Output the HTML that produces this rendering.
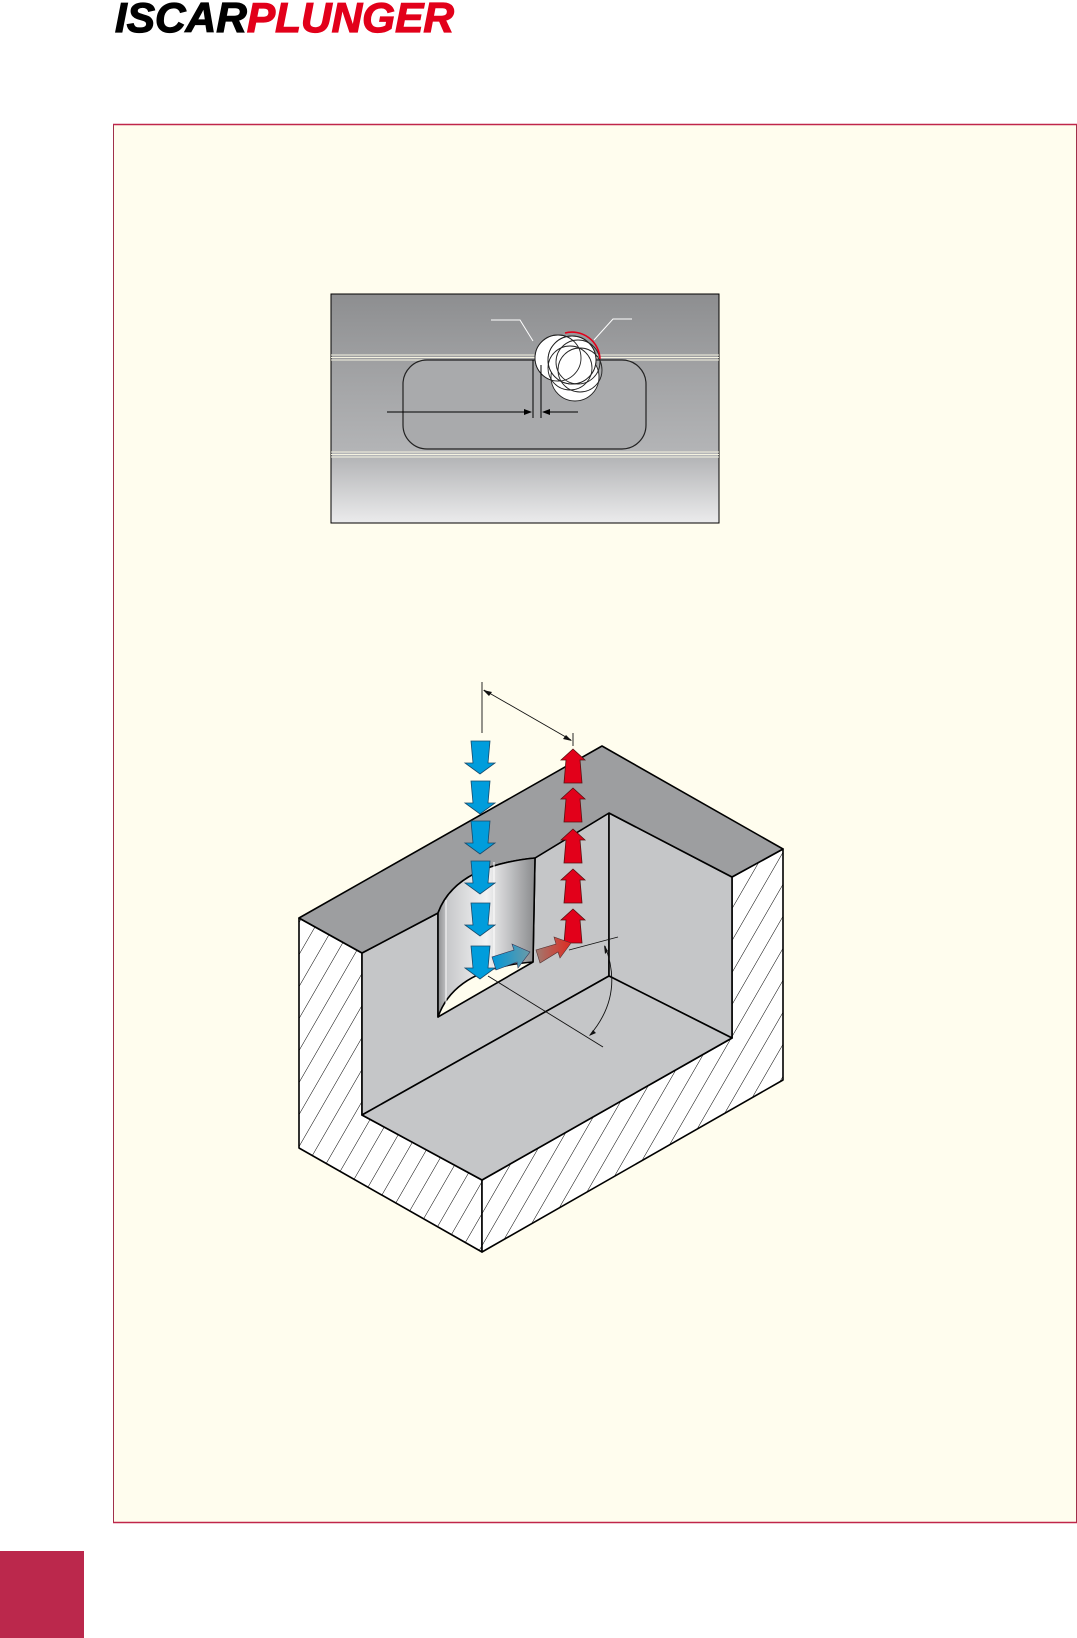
<!DOCTYPE html>
<html><head><meta charset="utf-8"><style>
html,body{margin:0;padding:0;background:#fff;}
svg{display:block;}
</style></head><body>
<svg width="1077" height="1638" viewBox="0 0 1077 1638" xmlns="http://www.w3.org/2000/svg">
<defs>
<linearGradient id="bg1" x1="0" y1="0" x2="0" y2="1">
<stop offset="0" stop-color="#8d8e90"/><stop offset="0.3" stop-color="#9fa0a2"/><stop offset="0.72" stop-color="#b5b6b8"/><stop offset="1" stop-color="#ebebec"/>
</linearGradient>
<linearGradient id="cyl" x1="0" y1="0" x2="1" y2="0">
<stop offset="0" stop-color="#8e8f91"/><stop offset="0.1" stop-color="#c8c9cb"/><stop offset="0.5" stop-color="#f2f2f3"/><stop offset="0.8" stop-color="#b4b5b7"/><stop offset="1" stop-color="#8a8b8d"/>
</linearGradient>
<linearGradient id="ga" x1="0" y1="0" x2="1" y2="0">
<stop offset="0" stop-color="#0097d8"/><stop offset="1" stop-color="#6a9aa8"/>
</linearGradient>
<linearGradient id="gb" x1="0" y1="0" x2="1" y2="0">
<stop offset="0" stop-color="#a07a70"/><stop offset="1" stop-color="#e02a20"/>
</linearGradient>
<pattern id="hatch" width="16" height="16" patternUnits="userSpaceOnUse" patternTransform="rotate(30)">
<rect width="16" height="16" fill="#fff"/><line x1="0" y1="0" x2="0" y2="16" stroke="#000" stroke-width="1"/>
</pattern>
</defs>

<!-- logo -->
<text x="115" y="32" font-family="Liberation Sans, sans-serif" font-weight="bold" font-style="italic" font-size="42" stroke-width="1.2" textLength="339" lengthAdjust="spacingAndGlyphs"><tspan fill="#000" stroke="#000">ISCAR</tspan><tspan fill="#e2001a" stroke="#e2001a">PLUNGER</tspan></text>

<!-- panel -->
<rect x="113.5" y="124.5" width="963" height="1398" fill="#fffdee" stroke="#a0304a" stroke-width="1"/>
<line x1="113" y1="124.5" x2="1077" y2="124.5" stroke="#c0264a" stroke-width="1.5"/>
<line x1="113" y1="1522.5" x2="1077" y2="1522.5" stroke="#c0264a" stroke-width="1.5"/>

<!-- red box -->
<rect x="0" y="1551" width="84" height="87" fill="#bb284c"/>

<!-- top figure -->
<rect x="331" y="294" width="388" height="229" fill="url(#bg1)" stroke="#000" stroke-width="1"/>
<g stroke="#f4f2e0" stroke-width="1">
<line x1="331" y1="355" x2="719" y2="355"/><line x1="331" y1="357.5" x2="719" y2="357.5"/><line x1="331" y1="360" x2="719" y2="360"/>
<line x1="331" y1="452" x2="719" y2="452"/><line x1="331" y1="454.5" x2="719" y2="454.5"/><line x1="331" y1="457" x2="719" y2="457"/>
</g>
<rect x="403" y="360" width="243" height="89" rx="24" fill="#a9aaac" stroke="#222" stroke-width="1.2"/>
<g fill="#fff" stroke="#222" stroke-width="0.9">
<circle cx="558" cy="358" r="23"/>
<circle cx="575" cy="377" r="24"/>
<circle cx="572" cy="360" r="24"/>
</g>
<g fill="none" stroke="#222" stroke-width="0.9">
<circle cx="558" cy="358" r="23"/><circle cx="572" cy="360" r="24"/><circle cx="578" cy="362" r="22"/><circle cx="570" cy="368" r="22"/><circle cx="580" cy="370" r="22"/>
</g>
<path d="M565 333 A28 28 0 0 1 600 359" fill="none" stroke="#e2001a" stroke-width="1.6"/>
<g stroke="#fff" stroke-width="1" fill="none">
<polyline points="491,320 520,320 533,341"/>
<polyline points="632,319 613,319 594,340"/>
</g>
<g stroke="#000" stroke-width="1">
<line x1="533" y1="360" x2="533" y2="418"/><line x1="541" y1="365" x2="541" y2="418"/>
<line x1="387" y1="412" x2="531" y2="412"/><line x1="543" y1="412" x2="578" y2="412"/>
</g>
<path d="M532 412 l-8 -3 v6 z M542 412 l8 -3 v6 z" fill="#000"/>

<!-- 3D block -->
<g stroke="#000" stroke-width="1.6" stroke-linejoin="round">
<polygon points="299,918 362,953 362,1115 482,1180 482,1252 299,1148" fill="url(#hatch)"/>
<polygon points="732,877 783,849 783,1080 482,1252 482,1180 732,1038" fill="url(#hatch)"/>
<polygon points="362,953 438,913 438,1017 533,962 535,858 609,813 609,976 362,1115" fill="#c5c6c8"/>
<polygon points="609,813 732,877 732,1038 609,976" fill="#c5c6c8"/>
<polygon points="362,1115 609,976 732,1038 482,1180" fill="#c5c6c8"/>
<path d="M299,918 L602,746 L783,849 L732,877 L609,813 L535,858 Q455,866 438,913 L362,953 Z" fill="#9d9ea0"/>
<path d="M438,913 Q455,866 535,858 L533,962 Q455,968 438,1017 Z" fill="url(#cyl)"/>
</g>
<line x1="446" y1="900" x2="446" y2="1005" stroke="#fff" stroke-width="1"/>
<line x1="494" y1="862" x2="494" y2="970" stroke="#fff" stroke-width="1"/>

<!-- blue arrows -->
<g fill="#009ddc" stroke="#1a4a6a" stroke-width="0.8">
<path id="ba" d="M471,741 h19 l-2,22 h7 l-15,11 l-15,-11 h8 z"/>
<use href="#ba" y="40"/><use href="#ba" y="80"/><use href="#ba" y="120"/><use href="#ba" y="162"/><use href="#ba" y="205"/>
</g>
<!-- red arrows -->
<g fill="#e2001a" stroke="#5a1010" stroke-width="0.8">
<path id="ra" d="M573,749 l12,11 h-5 l2,23 h-18 l2,-23 h-5 z"/>
<use href="#ra" y="39"/><use href="#ra" y="80"/><use href="#ra" y="120"/><use href="#ra" y="160"/>
</g>
<!-- gradient arrows -->
<path d="M496,970 l-4,-13 l22,-7 l-2,-6 l18,8 l-12,16 l-1,-6 z" fill="url(#ga)" stroke="#335" stroke-width="0.6"/>
<path d="M540,963 l-4,-13 l20,-6 l-2,-7 l17,6 l-11,15 l-2,-6 z" fill="url(#gb)" stroke="#533" stroke-width="0.6"/>

<!-- dimension lines -->
<g stroke="#111" stroke-width="0.9" fill="none">
<line x1="482" y1="682" x2="482" y2="733"/>
<line x1="484" y1="690" x2="571" y2="740"/>
<line x1="573" y1="733" x2="573" y2="746"/>
<line x1="569" y1="950" x2="618" y2="937"/>
<line x1="488" y1="976" x2="603" y2="1047"/>
<path d="M605,946 Q624,995 590,1035"/>
</g>
<path d="M483,690 l9,2 l-3,4 z M572,741 l-9,-2 l3,-4 z" fill="#111"/>
<path d="M604,945 l1,9 l3,-3 z M589,1036 l7,-3 l-3,-3 z" fill="#111"/>
</svg>
</body></html>
